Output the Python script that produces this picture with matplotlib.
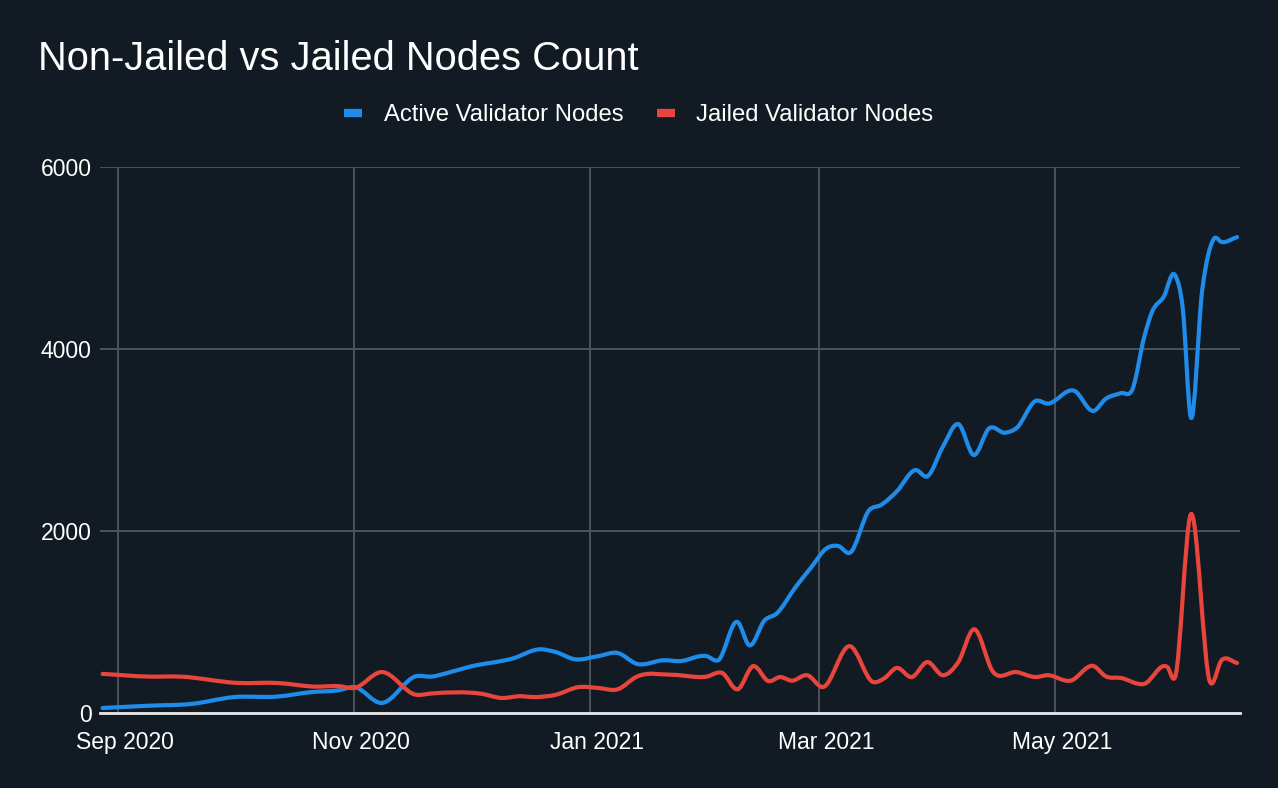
"""Non-Jailed vs Jailed validator node counts, dark theme line chart."""

import matplotlib

matplotlib.use("Agg")
import matplotlib.dates as mdates
import matplotlib.pyplot as plt
import numpy as np
from matplotlib.lines import Line2D
from matplotlib.patches import PathPatch
from matplotlib.path import Path
from matplotlib.transforms import ScaledTranslation

plt.rcParams["font.family"] = ["Liberation Sans", "DejaVu Sans"]

BG = "#121b23"
BLUE = "#1e8ce8"
RED = "#e8453c"
GRID = "#4b5259"

active_dates = [
    "2020-08-28", "2020-09-09", "2020-09-20", "2020-10-01", "2020-10-12", "2020-10-21",
    "2020-10-28", "2020-11-01", "2020-11-08", "2020-11-17", "2020-11-21", "2020-11-25",
    "2020-12-01", "2020-12-12", "2020-12-19", "2020-12-23", "2020-12-28", "2021-01-03",
    "2021-01-08", "2021-01-13", "2021-01-20", "2021-01-24", "2021-01-31", "2021-02-03",
    "2021-02-08", "2021-02-11", "2021-02-15", "2021-02-18", "2021-02-23", "2021-02-27",
    "2021-03-03", "2021-03-06", "2021-03-09", "2021-03-14", "2021-03-17", "2021-03-21",
    "2021-03-26", "2021-03-29", "2021-04-02", "2021-04-06", "2021-04-10", "2021-04-14",
    "2021-04-18", "2021-04-21", "2021-04-26", "2021-04-29", "2021-05-06", "2021-05-11",
    "2021-05-14", "2021-05-18", "2021-05-21", "2021-05-24", "2021-05-26", "2021-05-29",
    "2021-06-01", "2021-06-03", "2021-06-05", "2021-06-08", "2021-06-11", "2021-06-13",
    "2021-06-17",
]
active_values = [
    55, 80, 100, 175, 180, 230, 250, 285, 110, 405,
    400, 440, 510, 600, 700, 670, 590, 625, 660, 540,
    580, 570, 625, 580, 1000, 745, 1020, 1090, 1385, 1600,
    1810, 1835, 1760, 2230, 2285, 2430, 2670, 2600, 2925, 3175,
    2835, 3130, 3080, 3130, 3430, 3400, 3540, 3320, 3450, 3515,
    3560, 4130, 4405, 4570, 4810, 4430, 3255, 4650, 5210, 5175,
    5230,
]

jailed_dates = [
    "2020-08-28", "2020-09-09", "2020-09-17", "2020-10-02", "2020-10-12", "2020-10-22",
    "2020-10-28", "2020-11-01", "2020-11-08", "2020-11-17", "2020-11-21", "2020-12-04",
    "2020-12-09", "2020-12-14", "2020-12-17", "2020-12-23", "2020-12-29", "2021-01-03",
    "2021-01-08", "2021-01-13", "2021-01-22", "2021-01-31", "2021-02-04", "2021-02-08",
    "2021-02-12", "2021-02-16", "2021-02-19", "2021-02-22", "2021-02-26", "2021-03-02",
    "2021-03-09", "2021-03-15", "2021-03-18", "2021-03-21", "2021-03-25", "2021-03-29",
    "2021-04-02", "2021-04-06", "2021-04-10", "2021-04-15", "2021-04-21", "2021-04-26",
    "2021-04-29", "2021-05-05", "2021-05-11", "2021-05-14", "2021-05-18", "2021-05-24",
    "2021-05-30", "2021-06-01", "2021-06-05", "2021-06-10", "2021-06-13", "2021-06-17",
]
jailed_values = [
    430, 400, 400, 330, 330, 290, 295, 275, 450, 200,
    215, 210, 165, 185, 175, 200, 285, 275, 260, 400,
    420, 400, 440, 260, 515, 350, 395, 355, 415, 285,
    735, 340, 385, 495, 395, 560, 415, 560, 920, 450,
    450, 395, 415, 355, 515, 405, 385, 320, 505, 395,
    2180, 340, 580, 550,
]

series_labels = ["Active Validator Nodes", "Jailed Validator Nodes"]
y_ticks = [0, 2000, 4000, 6000]
x_ticks = ["2020-09-01", "2020-11-01", "2021-01-01", "2021-03-01", "2021-05-01"]


def smooth_path(xs, ys):
    """Cubic Hermite curve through the points, as bezier segments."""
    x = np.asarray(xs, dtype=float)
    y = np.asarray(ys, dtype=float)
    slope = np.gradient(y, x)
    verts = [(x[0], y[0])]
    codes = [Path.MOVETO]
    for i in range(len(x) - 1):
        h = x[i + 1] - x[i]
        verts += [
            (x[i] + h / 3, y[i] + slope[i] * h / 3),
            (x[i + 1] - h / 3, y[i + 1] - slope[i + 1] * h / 3),
            (x[i + 1], y[i + 1]),
        ]
        codes += [Path.CURVE4] * 3
    return Path(verts, codes)


def to_num(dates):
    return mdates.date2num(np.array(dates, dtype="datetime64[D]"))


fig = plt.figure(figsize=(12.78, 7.88), dpi=100, facecolor=BG)
ax = fig.add_axes([100 / 1278, 1 - 713 / 788, 1140 / 1278, 546 / 788], facecolor=BG)

for dates, values, color in [
    (active_dates, active_values, BLUE),
    (jailed_dates, jailed_values, RED),
]:
    patch = PathPatch(
        smooth_path(to_num(dates), values),
        fill=False, edgecolor=color, lw=3, capstyle="round", joinstyle="round", zorder=3,
    )
    ax.add_patch(patch)

ax.set_xlim(mdates.date2num(np.datetime64("2020-08-27T08")), mdates.date2num(np.datetime64("2021-06-17T18")))
ax.set_ylim(0, 6000)
ax.set_yticks(y_ticks)
ax.set_xticks(to_num(x_ticks))
ax.xaxis.set_major_formatter(mdates.DateFormatter("%b %Y"))

ax.grid(True, color=GRID, lw=1.4)
ax.set_axisbelow(True)
for side in ["left", "right", "top"]:
    ax.spines[side].set_visible(False)
ax.spines["bottom"].set_color("#e8e8e8")
ax.spines["bottom"].set_linewidth(2)
ax.spines["bottom"].set_zorder(4)

ax.tick_params(axis="y", length=0, pad=6, labelsize=16.5, labelcolor="white")
ax.tick_params(axis="x", length=0, pad=13, labelsize=16.5, labelcolor="white")
shift = ScaledTranslation(7 / 100, 0, fig.dpi_scale_trans)
for label in ax.get_xticklabels():
    label.set_transform(label.get_transform() + shift)

fig.text(38 / 1278, 1 - 70 / 788, "Non-Jailed vs Jailed Nodes Count",
         color="white", fontsize=28.7, va="baseline", ha="left")

handles = [
    Line2D([], [], color=BLUE, lw=6, solid_capstyle="butt"),
    Line2D([], [], color=RED, lw=6, solid_capstyle="butt"),
]
fig.legend(
    handles, series_labels, loc="center", bbox_to_anchor=(639 / 1278, 1 - 115 / 788),
    ncol=2, frameon=False, fontsize=17.2, labelcolor="white",
    handlelength=0.75, handletextpad=0.9, columnspacing=1.4,
)

fig.savefig("out.png", dpi=100, facecolor=BG)
